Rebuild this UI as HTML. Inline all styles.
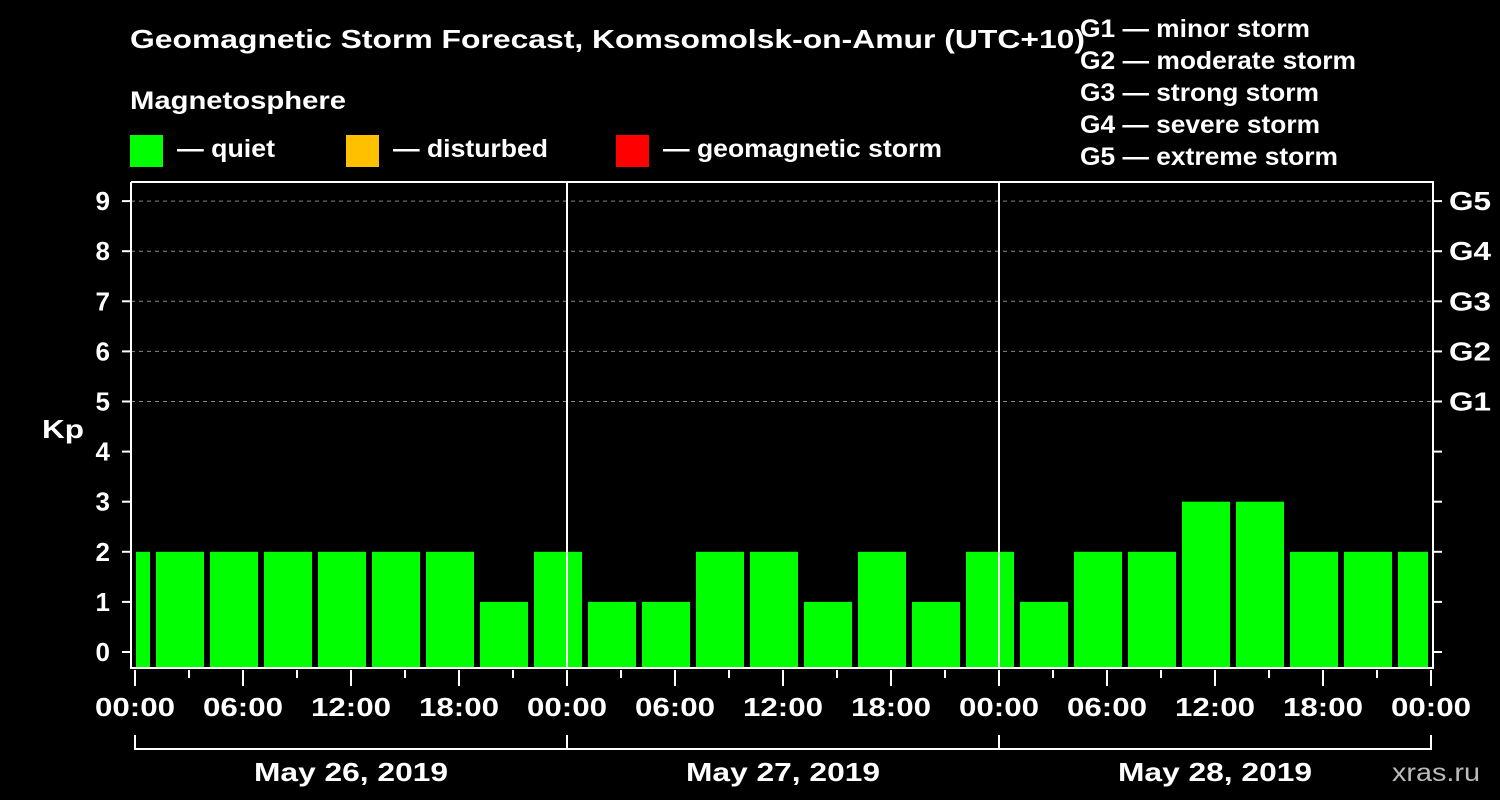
<!DOCTYPE html>
<html><head><meta charset="utf-8"><style>
html,body{margin:0;padding:0;background:#000;}
svg{display:block;}
text{font-family:"Liberation Sans",Arial,sans-serif;font-weight:bold;}
</style></head><body>
<svg id="chart" width="1500" height="800" viewBox="0 0 1500 800">
<rect width="1500" height="800" fill="#000"/>
<text x="130" y="48" fill="#fff" font-size="26" textLength="955" lengthAdjust="spacingAndGlyphs">Geomagnetic Storm Forecast, Komsomolsk-on-Amur (UTC+10)</text>
<text x="130" y="109" fill="#fff" font-size="25" textLength="216" lengthAdjust="spacingAndGlyphs">Magnetosphere</text>
<g>
<rect x="130" y="135" width="33" height="32" fill="#00ff00"/>
<text x="177" y="157" fill="#fff" font-size="25" textLength="98" lengthAdjust="spacingAndGlyphs">— quiet</text>
<rect x="346" y="135" width="33" height="32" fill="#ffc000"/>
<text x="393" y="157" fill="#fff" font-size="25" textLength="155" lengthAdjust="spacingAndGlyphs">— disturbed</text>
<rect x="616" y="135" width="33" height="32" fill="#ff0000"/>
<text x="663" y="157" fill="#fff" font-size="25" textLength="279" lengthAdjust="spacingAndGlyphs">— geomagnetic storm</text>
</g>
<g fill="#fff" font-size="25">
<text x="1080" y="37" textLength="230" lengthAdjust="spacingAndGlyphs">G1 — minor storm</text>
<text x="1080" y="69" textLength="276" lengthAdjust="spacingAndGlyphs">G2 — moderate storm</text>
<text x="1080" y="101" textLength="239" lengthAdjust="spacingAndGlyphs">G3 — strong storm</text>
<text x="1080" y="133" textLength="240" lengthAdjust="spacingAndGlyphs">G4 — severe storm</text>
<text x="1080" y="165" textLength="258" lengthAdjust="spacingAndGlyphs">G5 — extreme storm</text>
</g>
<text x="42" y="438" fill="#fff" font-size="26" textLength="42" lengthAdjust="spacingAndGlyphs">Kp</text>
<text x="1392" y="781" fill="#bbb" font-size="25" textLength="88" lengthAdjust="spacingAndGlyphs" style="font-weight:normal">xras.ru</text>
<g id="grid"></g><g id="bars"></g><g id="axes"></g>
</svg>
<script>
const kpValues=[2,2,2,2,2,2,2,1,2,1,1,2,2,1,2,1,2,1,2,2,3,3,2,2,2];
const barHours=[-0.5,2.5,5.5,8.5,11.5,14.5,17.5,20.5,23.5,26.5,29.5,32.5,35.5,38.5,41.5,44.5,47.5,50.5,53.5,56.5,59.5,62.5,65.5,68.5,71.5];
const yTicks=[0,1,2,3,4,5,6,7,8,9];
const gLabels=["G1","G2","G3","G4","G5"];
const xTickLabels=["00:00","06:00","12:00","18:00","00:00","06:00","12:00","18:00","00:00","06:00","12:00","18:00","00:00"];
const dateLabels=["May 26, 2019","May 27, 2019","May 28, 2019"];
const NS="http://www.w3.org/2000/svg";
const X=h=>135+h*18, Y=v=>652-v*50.1;
const clipL=136, clipR=1428, plotBottom=668, plotTop=182, axL=131, axR=1433;
function mk(p,t,a){const e=document.createElementNS(NS,t);for(const k in a)e.setAttribute(k,a[k]);p.appendChild(e);return e;}
const grid=document.getElementById('grid'),bars=document.getElementById('bars'),axes=document.getElementById('axes');
yTicks.forEach(v=>{if(v>=5){const l=mk(grid,'line',{x1:axL,x2:axR,y1:Y(v),y2:Y(v),stroke:'#888','stroke-dasharray':'4,4'});

}});
kpValues.forEach((v,i)=>{const c=X(barHours[i]);let x0=Math.max(c-24,clipL),x1=Math.min(c+24,clipR);
const r=mk(bars,'rect',{x:x0,y:Y(v),width:x1-x0,height:plotBottom-Y(v),fill:v>=5?'#ff0000':(v>=4?'#ffc000':'#00ff00')});

});
[1,2].forEach(d=>{const l=mk(axes,'line',{x1:X(24*d),x2:X(24*d),y1:plotTop,y2:plotBottom,stroke:'#fff','stroke-width':2});

});
const fr=mk(axes,'path',{d:`M${axL},${plotTop}V${plotBottom}H${axR}V${plotTop}H${axL}`,fill:'none',stroke:'#fff','stroke-width':2});


yTicks.forEach(v=>{mk(axes,'line',{x1:122,x2:axL,y1:Y(v),y2:Y(v),stroke:'#fff','stroke-width':2});
mk(axes,'line',{x1:axR,x2:1442,y1:Y(v),y2:Y(v),stroke:'#fff','stroke-width':2});
const t=mk(axes,'text',{x:110,y:Y(v)+9,fill:'#fff','font-size':26,'text-anchor':'end'});t.textContent=v;


if(v>=5){const g=mk(axes,'text',{x:1449,y:Y(v)+9,fill:'#fff','font-size':26,textLength:42,lengthAdjust:'spacingAndGlyphs'});g.textContent=gLabels[v-5];

}});
for(let h=0;h<=72;h+=3){const major=h%6===0;mk(axes,'line',{x1:X(h),x2:X(h),y1:670,y2:major?686:678,stroke:'#fff','stroke-width':2});}
xTickLabels.forEach((s,i)=>{const t=mk(axes,'text',{x:X(i*6),y:716,fill:'#fff','font-size':26,'text-anchor':'middle',textLength:80,lengthAdjust:'spacingAndGlyphs'});t.textContent=s;

});
const br=mk(axes,'path',{d:`M${X(0)},735V749H${X(72)}V735M${X(24)},735V749M${X(48)},735V749`,fill:'none',stroke:'#fff','stroke-width':2});


dateLabels.forEach((s,i)=>{const t=mk(axes,'text',{x:X(24*i+12),y:781,fill:'#fff','font-size':26,'text-anchor':'middle',textLength:194,lengthAdjust:'spacingAndGlyphs'});t.textContent=s;

});
</script>
</body></html>
